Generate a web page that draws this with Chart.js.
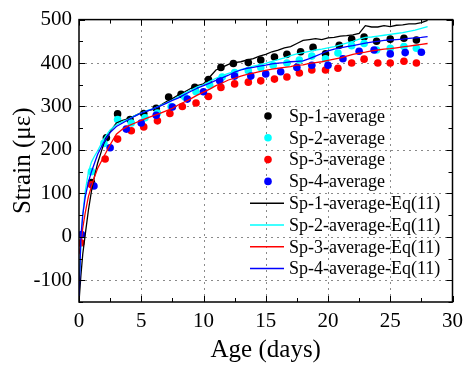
<!DOCTYPE html>
<html>
<head>
<meta charset="utf-8">
<script src="https://cdn.jsdelivr.net/npm/chart.js@4.4.0/dist/chart.umd.min.js"></script>
<style>
  html, body { margin: 0; padding: 0; background: #fff; }
  #wrap { width: 470px; height: 365px; }
</style>
</head>
<body>
<div id="wrap"><canvas id="strainChart" width="470" height="365"></canvas></div>
<script>
const xTicks = [0, 5, 10, 15, 20, 25, 30]
const yTicks = [-100, 0, 100, 200, 300, 400, 500]
const xRange = [0, 30]
const yRange = [-150, 500]

const dotLabels = ["Sp-1-average", "Sp-2-average", "Sp-3-average", "Sp-4-average"]
const fitLabels = ["Sp-1-average-Eq(11)", "Sp-2-average-Eq(11)", "Sp-3-average-Eq(11)", "Sp-4-average-Eq(11)"]

// measured points
const sp1Days = [1, 2.2, 3.1, 4.1, 5.2, 6.2, 7.2, 8.2, 9.3, 10.4, 11.4, 12.4, 13.6, 14.6, 15.7, 16.7, 17.8, 18.8, 19.8, 20.9, 21.9, 22.9, 23.9, 25.0, 26.1, 27.1]
const sp1Vals = [125, 228, 283, 270, 284, 296, 322, 328, 344, 362, 390, 399, 401, 407, 414, 420, 426, 436, 421, 441, 455, 460, 450, 455, 457, 453]
const sp2Days = [1, 2, 3.1, 4.2, 5.3, 6.3, 7.4, 8.5, 9.4, 10.5, 11.5, 12.5, 13.6, 14.6, 15.6, 16.7, 17.7, 18.7, 19.8, 20.8, 21.9, 22.9, 23.9, 25.0, 26.1, 27.1]
const sp2Vals = [150, 215, 270, 262, 274, 285, 300, 322, 334, 349, 368, 378, 382, 390, 395, 400, 407, 416, 410, 423, 440, 445, 430, 434, 438, 434]
const sp3Days = [0.15, 1.0, 2.1, 3.1, 4.2, 5.2, 6.3, 7.3, 8.3, 9.4, 10.4, 11.4, 12.5, 13.6, 14.6, 15.7, 16.7, 17.7, 18.7, 19.8, 20.8, 21.9, 22.9, 24, 25, 26.1, 27.1]
const sp3Vals = [-14, 120, 179, 225, 244, 253, 267, 284, 300, 308, 323, 344, 352, 356, 359, 363, 368, 377, 384, 384, 388, 400, 409, 400, 400, 404, 400]
const sp4Days = [0.2, 1.2, 2.5, 3.8, 5.0, 6.2, 7.5, 8.7, 10, 11.3, 12.5, 13.8, 15, 16.2, 17.5, 18.7, 20, 21.2, 22.5, 23.7, 25, 26.2, 27.5]
const sp4Vals = [5, 117, 205, 248, 262, 280, 299, 317, 334, 359, 370, 370, 375, 380, 390, 395, 395, 410, 427, 430, 421, 424, 425]

// Eq(11) curves
const fitDays = [0, 0.15, 0.3, 0.5, 0.75, 1, 1.25, 1.5, 2, 2.5, 3, 3.5, 4, 4.5, 5, 5.5, 6, 6.5, 7, 7.5, 8, 8.5, 9, 9.5, 10, 10.5, 11, 11.5, 12, 12.5, 13, 13.5, 14, 14.5, 15, 15.5, 16, 16.5, 17, 17.5, 18, 18.5, 19, 19.5, 20, 20.5, 21, 21.5, 22, 22.5, 23, 23.5, 24, 24.5, 25, 25.5, 26, 26.5, 27, 27.5, 28]
const sp1Fit = [-150, -90, -40, 5, 60, 105, 140, 170, 215, 242, 262, 268, 272, 279, 286, 290, 294, 302, 311, 318, 327, 334, 342, 348, 352, 368, 384, 390, 397, 401, 403, 407, 410, 416, 420, 426, 430, 435, 438, 445, 452, 454, 456, 454, 458, 459, 462, 463, 465, 468, 486, 483, 483, 486, 484, 487, 488, 490, 490, 493, 498]
const sp2Fit = [-110, -20, 50, 105, 148, 172, 186, 198, 226, 246, 258, 265, 271, 279, 285, 291, 295, 302, 308, 315, 323, 331, 338, 345, 350, 358, 365, 371, 376, 380, 385, 389, 393, 396, 399, 404, 408, 412, 417, 421, 424, 427, 430, 432, 435, 438, 442, 446, 450, 455, 459, 460, 462, 464, 466, 468, 470, 473, 476, 480, 484]
const sp3Fit = [-40, -15, 20, 55, 92, 116, 138, 158, 185, 212, 236, 248, 256, 262, 268, 274, 279, 284, 290, 296, 304, 311, 318, 326, 333, 340, 348, 354, 361, 365, 370, 374, 377, 380, 383, 386, 388, 390, 392, 395, 396, 399, 401, 403, 406, 409, 412, 416, 420, 423, 425, 428, 430, 432, 433, 435, 437, 439, 441, 443, 445]
const sp4Fit = [-150, 0, 50, 92, 125, 150, 170, 190, 218, 240, 254, 262, 270, 278, 285, 290, 295, 301, 307, 314, 320, 328, 335, 342, 348, 354, 360, 366, 372, 379, 384, 388, 390, 393, 395, 398, 400, 401, 403, 404, 405, 410, 416, 422, 428, 432, 435, 438, 440, 443, 446, 448, 450, 452, 453, 454, 455, 457, 458, 459, 461]

const colors = ["#000000", "#00ffff", "#ff0000", "#0000ff"]
const serif = "'Liberation Serif', 'Times New Roman', serif"

const dotDays = [sp1Days, sp2Days, sp3Days, sp4Days]
const dotVals = [sp1Vals, sp2Vals, sp3Vals, sp4Vals]
const fitVals = [sp1Fit, sp2Fit, sp3Fit, sp4Fit]

const toPoints = (xs, ys) => xs.map((d, k) => ({ x: d, y: ys[k] }))

const datasets = []
dotLabels.forEach((label, i) => {
  datasets.push({
    type: "scatter",
    label: label,
    data: toPoints(dotDays[i], dotVals[i]),
    pointRadius: 3.8,
    pointBackgroundColor: colors[i],
    pointBorderWidth: 0,
    showLine: false,
    order: 2 + (3 - i) * 0.1,
  })
})
fitLabels.forEach((label, i) => {
  datasets.push({
    type: "line",
    label: label,
    data: toPoints(fitDays, fitVals[i]),
    borderColor: colors[i],
    borderWidth: 1.3,
    pointRadius: 0,
    tension: 0,
    fill: false,
    order: 1 + (3 - i) * 0.1,
  })
})

// dotted grid, inward ticks on all four sides, legend inside plot
const frameAndLegend = {
  id: "frameAndLegend",
  beforeDatasetsDraw(chart) {
    const { ctx, chartArea: a, scales: { x, y } } = chart
    ctx.save()
    ctx.strokeStyle = "#8a8a8a"
    ctx.lineWidth = 1
    ctx.setLineDash([2, 4])
    xTicks.forEach((v) => {
      if (v <= x.min || v >= x.max) return
      const px = Math.round(x.getPixelForValue(v)) + 0.5
      ctx.beginPath(); ctx.moveTo(px, a.bottom); ctx.lineTo(px, a.top); ctx.stroke()
    })
    yTicks.forEach((v) => {
      if (v <= y.min || v >= y.max) return
      const py = Math.round(y.getPixelForValue(v)) + 0.5
      ctx.beginPath(); ctx.moveTo(a.left, py); ctx.lineTo(a.right, py); ctx.stroke()
    })
    ctx.restore()
  },
  afterDraw(chart) {
    const { ctx, chartArea: a, scales: { x, y } } = chart
    ctx.save()
    ctx.strokeStyle = "#000"
    ctx.lineWidth = 1.5
    ctx.strokeRect(a.left, a.top, a.right - a.left, a.bottom - a.top)

    ctx.lineWidth = 1
    const xStep = xTicks[1] - xTicks[0]
    const yStep = yTicks[1] - yTicks[0]
    for (let v = x.min; v <= x.max + 0.001; v += xStep / 2) {
      const len = Math.abs(v / xStep - Math.round(v / xStep)) < 0.01 ? 6 : 4
      const px = Math.round(x.getPixelForValue(v)) + 0.5
      ctx.beginPath()
      ctx.moveTo(px, a.bottom); ctx.lineTo(px, a.bottom - len)
      ctx.moveTo(px, a.top); ctx.lineTo(px, a.top + len)
      ctx.stroke()
    }
    for (let v = -150; v <= y.max + 0.001; v += yStep / 2) {
      const len = Math.abs(v / yStep - Math.round(v / yStep)) < 0.01 ? 6 : 4
      const py = Math.round(y.getPixelForValue(v)) + 0.5
      ctx.beginPath()
      ctx.moveTo(a.left, py); ctx.lineTo(a.left + len, py)
      ctx.moveTo(a.right, py); ctx.lineTo(a.right - len, py)
      ctx.stroke()
    }

    // legend
    ctx.font = "18px " + serif
    ctx.textBaseline = "middle"
    ctx.textAlign = "left"
    ctx.fillStyle = "#000"
    const rowH = 21.8
    let rowY = 116
    dotLabels.forEach((label, i) => {
      ctx.fillStyle = colors[i]
      ctx.beginPath(); ctx.arc(268, rowY, 3.8, 0, Math.PI * 2); ctx.fill()
      ctx.fillStyle = "#000"
      ctx.fillText(label, 289, rowY + 1)
      rowY += rowH
    })
    fitLabels.forEach((label, i) => {
      ctx.strokeStyle = colors[i]
      ctx.lineWidth = 1.5
      ctx.beginPath(); ctx.moveTo(250, rowY); ctx.lineTo(284, rowY); ctx.stroke()
      ctx.fillStyle = "#000"
      ctx.fillText(label, 289, rowY + 1)
      rowY += rowH
    })
    ctx.restore()
  },
}

const ctx = document.getElementById("strainChart").getContext("2d")
new Chart(ctx, {
  type: "scatter",
  data: { datasets: datasets },
  options: {
    responsive: false,
    animation: false,
    layout: { padding: { top: 19, right: 10, left: 0, bottom: 0 } },
    plugins: { legend: { display: false }, tooltip: { enabled: false } },
    scales: {
      x: {
        type: "linear",
        min: xRange[0],
        max: xRange[1],
        afterBuildTicks: (scale) => { scale.ticks = xTicks.map((v) => ({ value: v })) },
        afterFit: (scale) => { scale.height = 63 },
        grid: { display: false, drawTicks: false },
        border: { display: false },
        ticks: { color: "#000", font: { family: serif, size: 21 }, padding: 7, maxRotation: 0 },
        title: { display: true, text: "Age (days)", color: "#000", font: { family: serif, size: 25 }, padding: { top: 0, bottom: 0 } },
      },
      y: {
        type: "linear",
        min: yRange[0],
        max: yRange[1],
        afterBuildTicks: (scale) => { scale.ticks = yTicks.map((v) => ({ value: v })) },
        afterFit: (scale) => { scale.width = 79 },
        grid: { display: false, drawTicks: false },
        border: { display: false },
        ticks: { color: "#000", font: { family: serif, size: 21 }, padding: 7 },
        title: { display: true, text: "Strain (με)", color: "#000", font: { family: serif, size: 25 }, padding: { top: 8, bottom: 0 } },
      },
    },
  },
  plugins: [frameAndLegend],
})
</script>
</body>
</html>
